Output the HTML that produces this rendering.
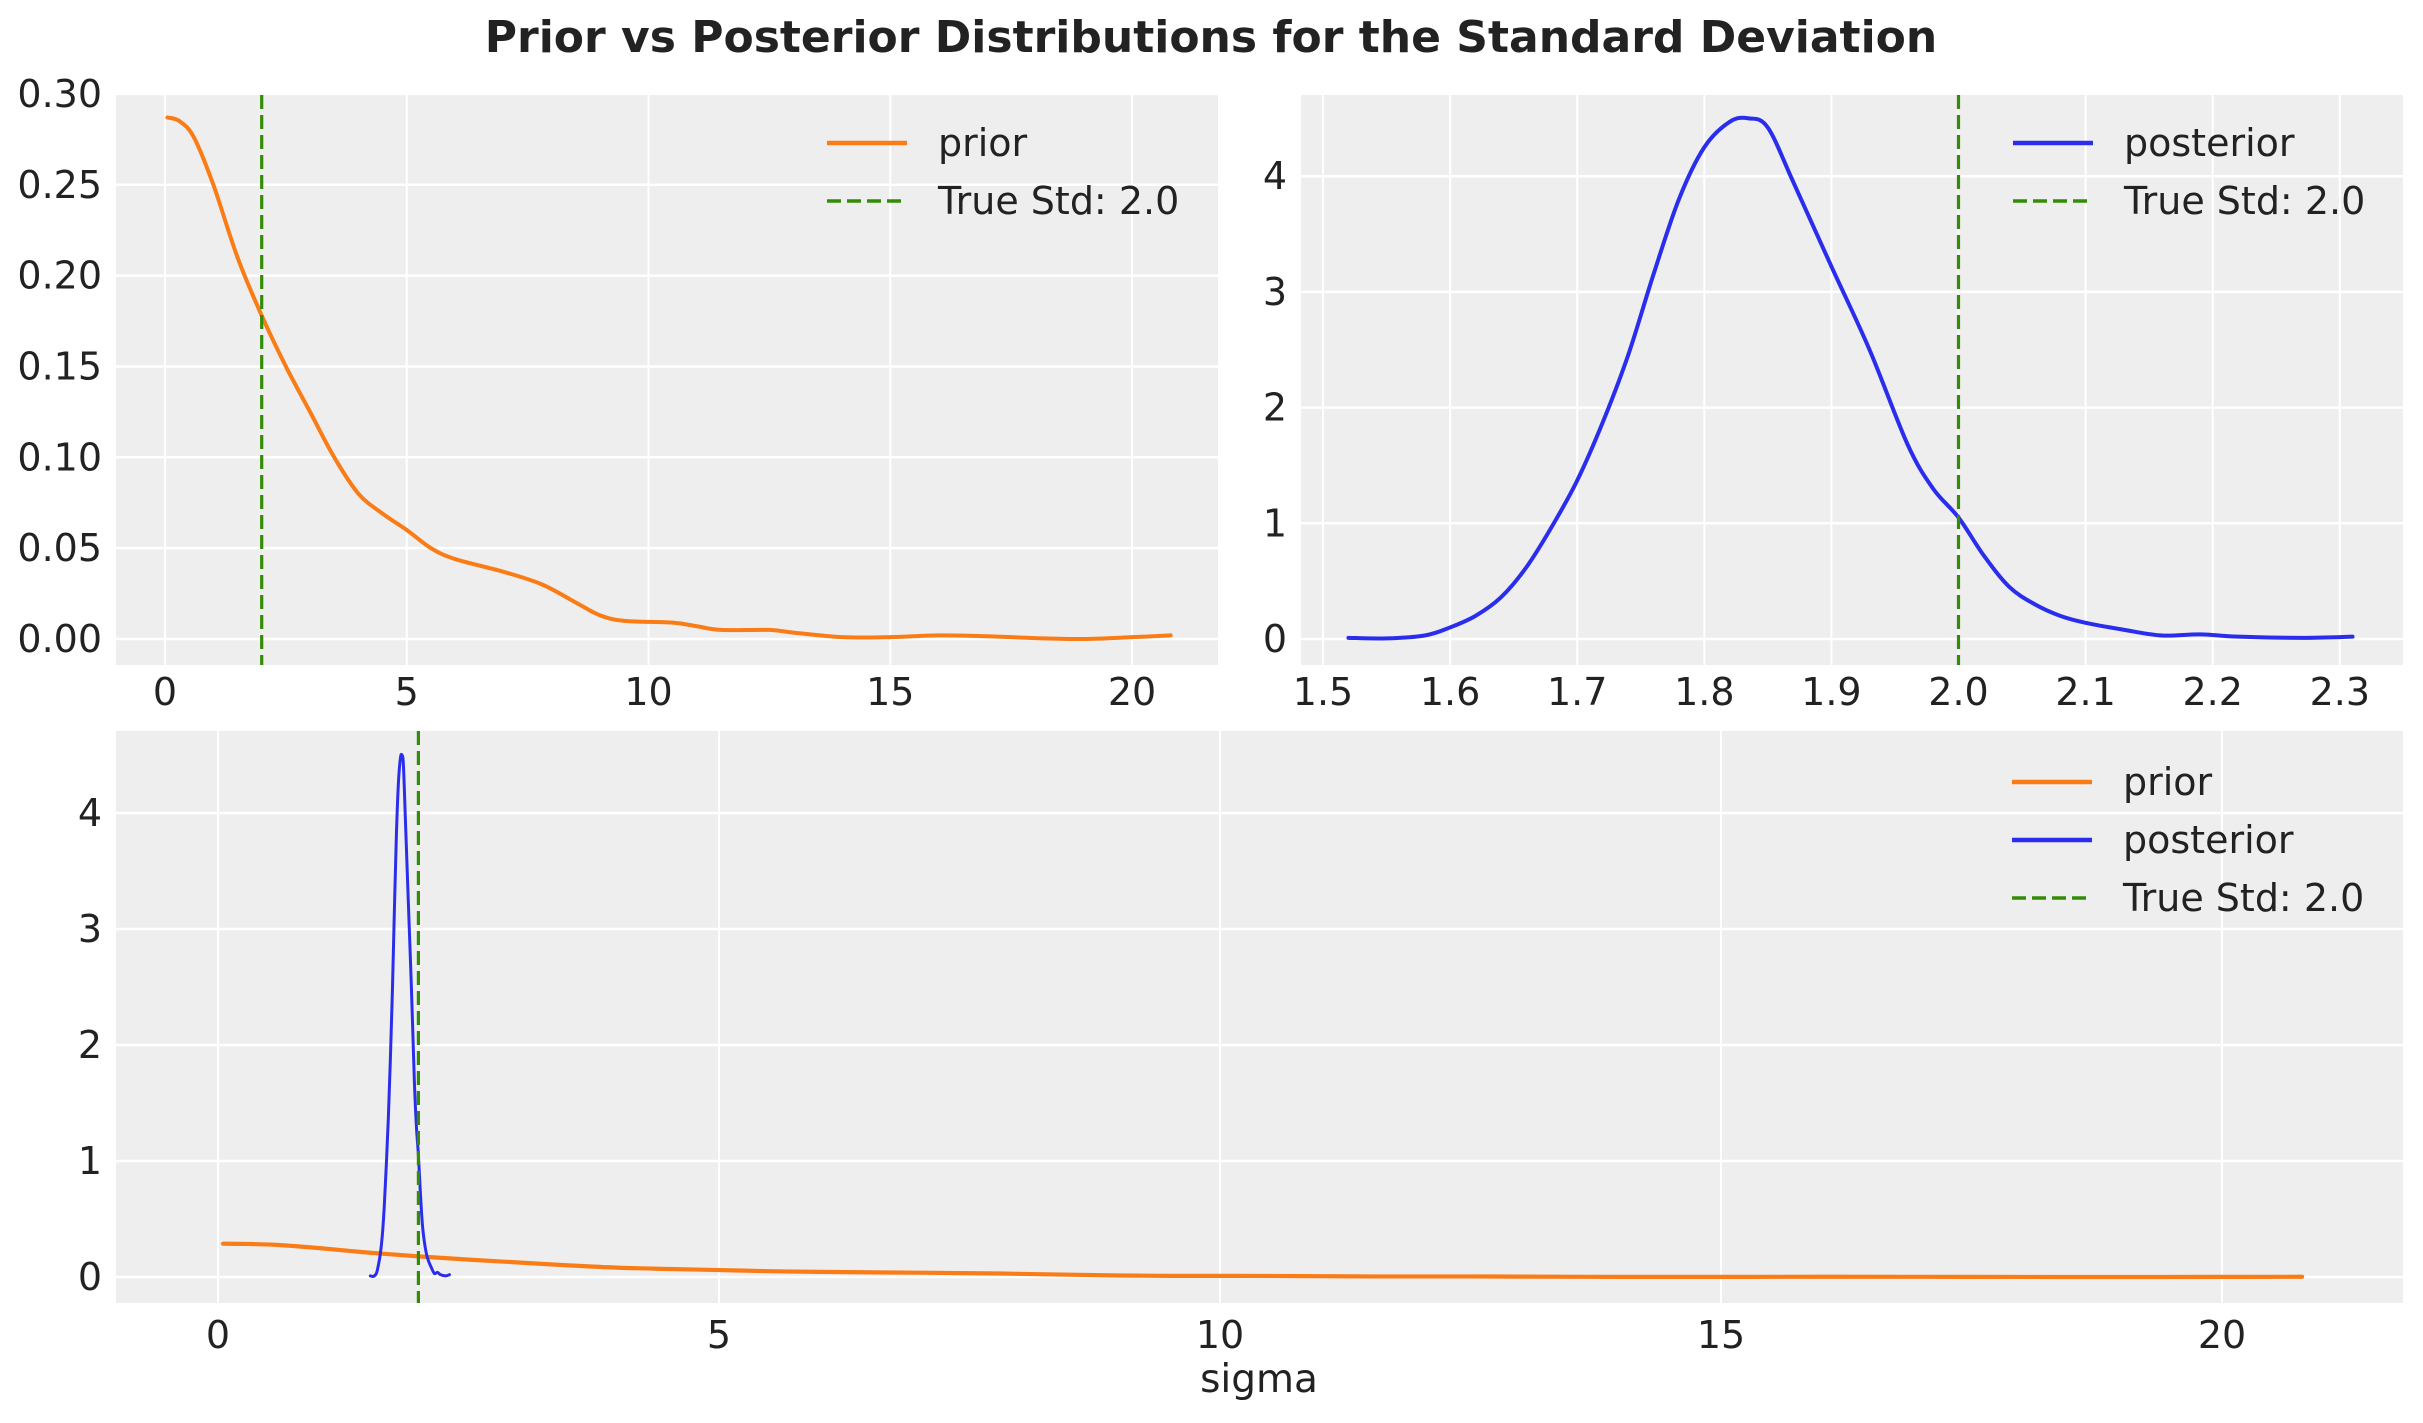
<!DOCTYPE html>
<html><head><meta charset="utf-8"><style>
html,body{margin:0;padding:0;background:#fff}
svg{display:block}
text{font-family:"DejaVu Sans","Liberation Sans",sans-serif;fill:#222}
</style></head><body>
<svg id="s" width="2423" height="1423" xmlns="http://www.w3.org/2000/svg">
<text x="1211" y="52" text-anchor="middle" font-size="44" font-weight="bold">Prior vs Posterior Distributions for the Standard Deviation</text>
<g id="g"></g>
</svg>
<script>
const NS="http://www.w3.org/2000/svg";const G=document.getElementById('g');
function el(t,a,txt){const e=document.createElementNS(NS,t);for(const k in a)e.setAttribute(k,a[k]);if(txt!==undefined)e.textContent=txt;G.appendChild(e);return e;}
function path(pts){let d="M"+pts[0][0]+","+pts[0][1];for(let i=0;i<pts.length-1;i++){const p0=pts[Math.max(0,i-1)],p1=pts[i],p2=pts[i+1],p3=pts[Math.min(pts.length-1,i+2)];const c1=[p1[0]+(p2[0]-p0[0])/6,p1[1]+(p2[1]-p0[1])/6],c2=[p2[0]-(p3[0]-p1[0])/6,p2[1]-(p3[1]-p1[1])/6];d+=" C"+c1+" "+c2+" "+p2;}return d;}
const prior=[[0.05,0.287],[0.3,0.285],[0.6,0.276],[1.0,0.25],[1.5,0.21],[2.0,0.178],[2.5,0.15],[3,0.125],[3.5,0.10],[4,0.08],[4.5,0.069],[5,0.06],[5.5,0.05],[6,0.044],[7,0.037],[7.8,0.03],[8.5,0.02],[9,0.013],[9.5,0.01],[10.5,0.009],[11,0.007],[11.5,0.005],[12.5,0.005],[13,0.0035],[14,0.001],[15,0.001],[16,0.002],[17,0.0015],[18,0.0005],[19,0.0],[20,0.001],[20.8,0.002]];
const post=[[1.52,0.01],[1.55,0.005],[1.58,0.03],[1.6,0.1],[1.62,0.2],[1.64,0.36],[1.66,0.62],[1.68,0.97],[1.70,1.37],[1.72,1.87],[1.74,2.45],[1.76,3.15],[1.78,3.8],[1.80,4.25],[1.82,4.47],[1.835,4.5],[1.85,4.42],[1.87,3.95],[1.90,3.22],[1.93,2.5],[1.96,1.68],[1.98,1.3],[2.0,1.05],[2.02,0.72],[2.04,0.45],[2.06,0.3],[2.08,0.2],[2.1,0.14],[2.13,0.08],[2.16,0.03],[2.19,0.04],[2.22,0.02],[2.27,0.01],[2.31,0.02]];
function axes(o){
 el('rect',{x:o.l,y:o.t,width:o.r-o.l,height:o.b-o.t,fill:'#eeeeee'});
 const X=v=>o.x0+(v-o.xv0)*o.xs, Y=v=>o.y0-(v-o.yv0)*o.ys;
 o.xt.forEach(v=>{const x=X(v);el('line',{x1:x,x2:x,y1:o.t,y2:o.b,stroke:'#fff','stroke-width':2});el('text',{x:x,y:o.b+o.xo,'text-anchor':'middle','font-size':38},o.xf(v));});
 o.yt.forEach(v=>{const y=Y(v);el('line',{x1:o.l,x2:o.r,y1:y,y2:y,stroke:'#fff','stroke-width':2.5});el('text',{x:o.l-14,y:y+13,'text-anchor':'end','font-size':38},o.yf(v));});
 o.series.forEach(s=>{el('path',{d:path(s.d.map(p=>[X(p[0]),Y(p[1])])),fill:'none',stroke:s.c,'stroke-width':s.w||4,'stroke-linejoin':'round','stroke-linecap':'round'});});
 const vx=X(2);el('line',{x1:vx,x2:vx,y1:o.t,y2:o.b,stroke:'#328c06','stroke-width':3.2,'stroke-dasharray':'14,6'});
 o.leg.forEach((L,i)=>{const y=o.ly+i*58;el('line',{x1:o.lx,x2:o.lx+80,y1:y,y2:y,stroke:L.c,'stroke-width':L.d?3.5:4.5,'stroke-dasharray':L.d?'14,6':'none'});el('text',{x:o.lx+111,y:y+13,'font-size':38},L.t);});
}
axes({l:116,r:1218,t:95,b:665,xo:40,x0:165,xv0:0,xs:48.35,y0:639,yv0:0,ys:1817,xt:[0,5,10,15,20],xf:v=>v,yt:[0,0.05,0.1,0.15,0.2,0.25,0.3],yf:v=>v.toFixed(2),series:[{d:prior,c:'#fa7c17'}],lx:827,ly:143,leg:[{c:'#fa7c17',t:'prior'},{c:'#328c06',t:'True Std: 2.0',d:1}]});
axes({l:1301,r:2403,t:95,b:665,xo:40,x0:1323,xv0:1.5,xs:1271,y0:639,yv0:0,ys:115.7,xt:[1.5,1.6,1.7,1.8,1.9,2.0,2.1,2.2,2.3],xf:v=>v.toFixed(1),yt:[0,1,2,3,4],yf:v=>v,series:[{d:post,c:'#2a2eec'}],lx:2013,ly:143,leg:[{c:'#2a2eec',t:'posterior'},{c:'#328c06',t:'True Std: 2.0',d:1}]});
axes({l:116,r:2403,t:731,b:1303,xo:45,x0:218,xv0:0,xs:100.2,y0:1277,yv0:0,ys:116,xt:[0,5,10,15,20],xf:v=>v,yt:[0,1,2,3,4],yf:v=>v,series:[{d:prior,c:'#fa7c17',w:4.2},{d:post,c:'#2a2eec',w:3}],lx:2012,ly:782,leg:[{c:'#fa7c17',t:'prior'},{c:'#2a2eec',t:'posterior'},{c:'#328c06',t:'True Std: 2.0',d:1}]});
el('text',{x:1259,y:1392,'text-anchor':'middle','font-size':39},'sigma');
</script>
</body></html>
